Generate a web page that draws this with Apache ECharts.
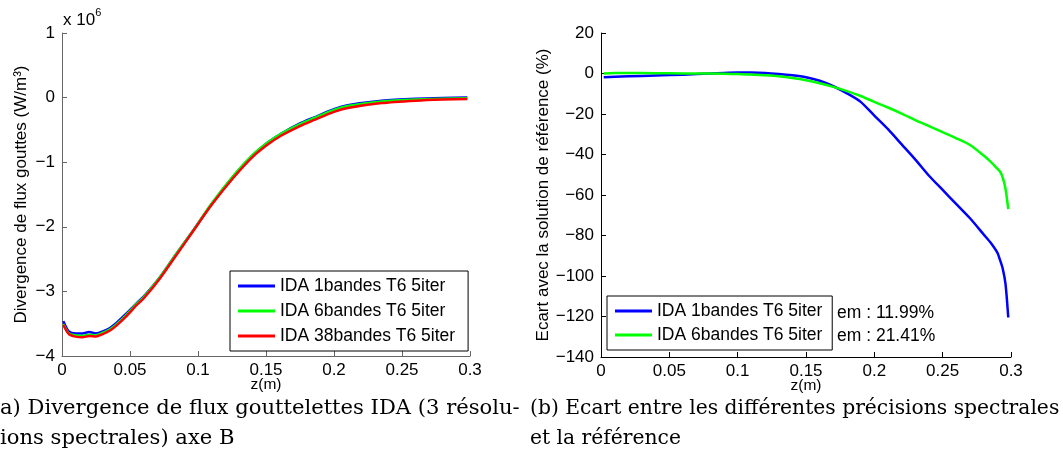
<!DOCTYPE html>
<html>
<head>
<meta charset="utf-8">
<script src="https://cdn.jsdelivr.net/npm/echarts@6/dist/echarts.min.js"></script>
<style>
  html, body { margin: 0; padding: 0; background: #fff; }
  #chart { width: 1063px; height: 472px; }
</style>
</head>
<body>
<div id="chart"></div>
<script>
// ---------- Data (left chart: values in units of 10^6 W/m^3) ----------
const zLeft = [0.001,0.005,0.01,0.015,0.02,0.025,0.03,0.035,0.04,0.047,0.055,0.06,0.072,0.084,0.097,0.11,0.126,0.14,0.151,0.161,0.175,0.185,0.2,0.21,0.235,0.26,0.28,0.298];
const div1bandes  = [-3.46,-3.62,-3.65,-3.65,-3.63,-3.65,-3.62,-3.57,-3.49,-3.35,-3.18,-3.08,-2.78,-2.42,-2.04,-1.65,-1.22,-0.90,-0.70,-0.56,-0.40,-0.31,-0.18,-0.12,-0.05,-0.018,-0.006,0.0];
const div6bandes  = [-3.51,-3.65,-3.68,-3.69,-3.67,-3.68,-3.64,-3.59,-3.51,-3.37,-3.19,-3.09,-2.78,-2.42,-2.04,-1.64,-1.21,-0.89,-0.70,-0.56,-0.41,-0.32,-0.19,-0.13,-0.06,-0.028,-0.016,-0.01];
const div38bandes = [-3.52,-3.66,-3.70,-3.71,-3.69,-3.70,-3.66,-3.61,-3.53,-3.39,-3.21,-3.11,-2.80,-2.44,-2.05,-1.66,-1.24,-0.92,-0.73,-0.59,-0.44,-0.35,-0.22,-0.16,-0.085,-0.048,-0.03,-0.02];

// ---------- Data (right chart: deviation in %) ----------
const zRight = [0.002,0.01,0.03,0.05,0.07,0.09,0.1,0.11,0.12,0.13,0.14,0.15,0.16,0.17,0.18,0.19,0.2,0.21,0.22,0.23,0.24,0.25,0.26,0.27,0.28,0.285,0.29,0.292,0.294,0.296,0.298];
const err1bandes = [-1.8,-1.6,-1.2,-0.8,-0.3,0.3,0.5,0.5,0.3,-0.2,-0.9,-1.9,-3.6,-6.3,-9.8,-14,-20.8,-27.5,-35,-42.5,-50.5,-57.5,-64.5,-71.5,-79.5,-83.5,-88.5,-92.2,-96.5,-104,-120.5];
const err6bandes = [0,0.3,0.2,0.1,0,-0.1,-0.3,-0.5,-0.9,-1.4,-2.2,-3.3,-4.8,-6.6,-8.7,-11.1,-14,-16.8,-19.8,-23,-26,-29,-32,-35.3,-40.5,-43.5,-47,-48.5,-51.5,-57,-67];

// ---------- Text ----------
const seriesNamesLeft = ['IDA 1bandes T6 5iter','IDA 6bandes T6 5iter','IDA 38bandes T6 5iter'];
const seriesNamesRight = ['IDA 1bandes T6 5iter ','IDA 6bandes T6 5iter '];
const emLabels = ['em : 11.99%','em : 21.41%'];
const captionLeft = ['a) Divergence de flux gouttelettes IDA (3 résolu-','ions spectrales) axe B'];
const captionRight = ['(b) Ecart entre les différentes précisions spectrales','et la référence'];
const xTicks = { min: 0, max: 0.3, interval: 0.05 };

const SANS = '"Liberation Sans", Arial, Helvetica, sans-serif';
const SERIF = '"DejaVu Serif", "Liberation Serif", serif';
const pairs = (xs, ys) => xs.map((x, i) => [x, ys[i]]);
const minusFmt = v => (v < 0 ? '\u2212' + Math.abs(v) : String(v));

function xAxisCfg(gridIndex, color) {
  return {
    type: 'value', gridIndex, min: xTicks.min, max: xTicks.max, interval: xTicks.interval,
    name: 'z(m)', nameLocation: 'middle', nameGap: 21, nameMoveOverlap: false,
    nameTextStyle: { fontFamily: SANS, fontSize: 15.5, color: '#000' },
    axisLine: { show: true, onZero: false, lineStyle: { color, width: 1 } },
    axisTick: { show: true, inside: true, length: 5, lineStyle: { color } },
    axisLabel: { fontFamily: SANS, fontSize: 17, color: '#000', margin: 6 },
    splitLine: { show: false }
  };
}
function yAxisCfg(gridIndex, min, max, interval, name, nameGap, color) {
  return {
    type: 'value', gridIndex, min, max, interval,
    name, nameLocation: 'middle', nameGap, nameMoveOverlap: false,
    nameTextStyle: { fontFamily: SANS, fontSize: 17, color: '#000' },
    axisLine: { show: true, onZero: false, lineStyle: { color, width: 1 } },
    axisTick: { show: true, inside: true, length: 5, lineStyle: { color } },
    axisLabel: { fontFamily: SANS, fontSize: 17, color: '#000', margin: 7, formatter: minusFmt },
    splitLine: { show: false }
  };
}
function lineSeries(name, xi, yi, data, color) {
  return {
    name, type: 'line', xAxisIndex: xi, yAxisIndex: yi, data,
    symbol: 'none', smooth: 0.25, animation: false,
    lineStyle: { color, width: 2.5 }, itemStyle: { color }
  };
}

const chart = echarts.init(document.getElementById('chart'), null, { renderer: 'canvas' });
chart.setOption({
  backgroundColor: '#fff',
  animation: false,
  grid: [
    { left: 62, right: 593, top: 33, bottom: 116 },
    { left: 601, right: 52, top: 33, bottom: 115 }
  ],
  xAxis: [ xAxisCfg(0, '#666'), xAxisCfg(1, '#000') ],
  yAxis: [
    yAxisCfg(0, -4, 1, 1, 'Divergence de flux gouttes (W/m³)', 32, '#666'),
    yAxisCfg(1, -140, 20, 20, 'Ecart avec la solution de référence (%)', 49, '#000')
  ],
  legend: [
    {
      data: seriesNamesLeft, orient: 'vertical', left: 230, top: 271,
      selectedMode: false, borderColor: '#000', borderWidth: 1, backgroundColor: '#fff',
      padding: [6, 13, 6, 8], itemWidth: 37, itemHeight: 3, itemGap: 7, icon: 'rect',
      textStyle: { fontFamily: SANS, fontSize: 17.5, color: '#000', lineHeight: 17 }
    },
    {
      data: seriesNamesRight, orient: 'vertical', left: 607, top: 296,
      selectedMode: false, borderColor: '#000', borderWidth: 1, backgroundColor: '#fff',
      padding: [6, 5, 6, 8], itemWidth: 37, itemHeight: 3, itemGap: 6, icon: 'rect',
      textStyle: { fontFamily: SANS, fontSize: 17.5, color: '#000', lineHeight: 17 }
    }
  ],
  series: [
    lineSeries(seriesNamesLeft[0], 0, 0, pairs(zLeft, div1bandes), '#0000ff'),
    lineSeries(seriesNamesLeft[1], 0, 0, pairs(zLeft, div6bandes), '#00ff00'),
    lineSeries(seriesNamesLeft[2], 0, 0, pairs(zLeft, div38bandes), '#ff0000'),
    lineSeries(seriesNamesRight[0], 1, 1, pairs(zRight, err1bandes), '#0000ff'),
    lineSeries(seriesNamesRight[1], 1, 1, pairs(zRight, err6bandes), '#00ff00')
  ],
  graphic: [
    {
      type: 'text', left: 63, top: 7,
      style: {
        text: '{a|x 10}{s|6}',
        rich: {
          a: { fontFamily: SANS, fontSize: 17, fill: '#000', verticalAlign: 'bottom', lineHeight: 22 },
          s: { fontFamily: SANS, fontSize: 11, fill: '#000', verticalAlign: 'top', lineHeight: 22 }
        }
      }
    },
    { type: 'text', left: 837, top: 304, style: { text: emLabels[0], fontFamily: SANS, fontSize: 17.5, fill: '#000' } },
    { type: 'text', left: 837, top: 327, style: { text: emLabels[1], fontFamily: SANS, fontSize: 17.5, fill: '#000' } },
    { type: 'text', left: 0, top: 398, style: { text: captionLeft[0], fontFamily: SERIF, fontSize: 21.1, fill: '#000' } },
    { type: 'text', left: 0, top: 428, style: { text: captionLeft[1], fontFamily: SERIF, fontSize: 21.1, fill: '#000' } },
    { type: 'text', left: 530, top: 399, style: { text: captionRight[0], fontFamily: SERIF, fontSize: 20.3, fill: '#000' } },
    { type: 'text', left: 530, top: 429, style: { text: captionRight[1], fontFamily: SERIF, fontSize: 20.3, fill: '#000' } }
  ]
});
</script>
</body>
</html>
